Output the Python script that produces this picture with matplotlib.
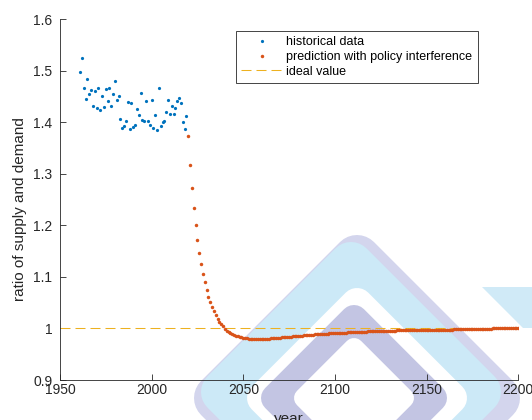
import numpy as np
import matplotlib
matplotlib.use("Agg")
import matplotlib.pyplot as plt
from matplotlib.patches import Polygon
from matplotlib.transforms import Affine2D

plt.rcParams['font.family'] = ['Liberation Sans', 'DejaVu Sans']

# historical supply/demand ratio, one value per year
hist_years = np.arange(1961, 2020)
hist_ratio = [1.497, 1.525, 1.466, 1.446, 1.485, 1.455, 1.462, 1.431, 1.460, 1.428,
              1.466, 1.424, 1.452, 1.430, 1.465, 1.442, 1.466, 1.432, 1.455, 1.481,
              1.444, 1.451, 1.406, 1.390, 1.392, 1.403, 1.440, 1.387, 1.437, 1.391,
              1.395, 1.426, 1.414, 1.457, 1.405, 1.402, 1.442, 1.403, 1.395, 1.444,
              1.390, 1.414, 1.385, 1.466, 1.393, 1.400, 1.403, 1.421, 1.443, 1.416,
              1.432, 1.416, 1.427, 1.442, 1.448, 1.438, 1.400, 1.387, 1.413]

# model prediction with policy interference
pred_years = np.arange(2020, 2201)
pred_ratio = [1.373, 1.318, 1.272, 1.233, 1.200, 1.171, 1.146, 1.125, 1.106, 1.090,
              1.075, 1.062, 1.051, 1.042, 1.033, 1.026, 1.019, 1.013, 1.008, 1.004,
              0.999, 0.996, 0.993, 0.991, 0.989, 0.987, 0.986, 0.985, 0.984, 0.983,
              0.982, 0.981, 0.981, 0.980, 0.980, 0.979, 0.979, 0.979, 0.979, 0.979,
              0.979, 0.980, 0.980, 0.980, 0.980, 0.981, 0.981, 0.981, 0.982, 0.982,
              0.982, 0.983, 0.983, 0.983, 0.984, 0.984, 0.984, 0.985, 0.985, 0.985,
              0.986, 0.986, 0.986, 0.987, 0.987, 0.987, 0.988, 0.988, 0.988, 0.989,
              0.989, 0.989, 0.989, 0.990, 0.990, 0.990, 0.990, 0.991, 0.991, 0.991,
              0.991, 0.991, 0.992, 0.992, 0.992, 0.992, 0.992, 0.993, 0.993, 0.993,
              0.993, 0.993, 0.994, 0.994, 0.994, 0.994, 0.994, 0.994, 0.995, 0.995,
              0.995, 0.995, 0.995, 0.995, 0.995, 0.996, 0.996, 0.996, 0.996, 0.996,
              0.996, 0.996, 0.996, 0.996, 0.997, 0.997, 0.997, 0.997, 0.997, 0.997,
              0.997, 0.997, 0.997, 0.997, 0.997, 0.997, 0.998, 0.998, 0.998, 0.998,
              0.998, 0.998, 0.998, 0.998, 0.998, 0.998, 0.998, 0.998, 0.998, 0.998,
              0.998, 0.998, 0.998, 0.998, 0.998, 0.999, 0.999, 0.999, 0.999, 0.999,
              0.999, 0.999, 0.999, 0.999, 0.999, 0.999, 0.999, 0.999, 0.999, 0.999,
              0.999, 0.999, 0.999, 0.999, 0.999, 0.999, 1.000, 1.000, 1.000, 1.000,
              1.000, 1.000, 1.000, 1.000, 1.000, 1.000, 1.000, 1.000, 1.000, 1.000,
              1.000]

ideal = 1.0
x_ticks = [1950, 2000, 2050, 2100, 2150, 2200]
y_ticks = [0.9, 1.0, 1.1, 1.2, 1.3, 1.4, 1.5, 1.6]
y_ticklabels = ['0.9', '1', '1.1', '1.2', '1.3', '1.4', '1.5', '1.6']

W, H = 532, 420
fig = plt.figure(figsize=(W / 100, H / 100), dpi=100)
ax = fig.add_axes([60 / W, 1 - 380 / H, 458.3 / W, 360.7 / H])

# background logo, laid out in pixel coordinates (origin top-left)
px = Affine2D().scale(1 / W, -1 / H).translate(0, 1) + fig.transFigure


def diamond(cx, cy, half, r, color):
    h = half - r
    pts = [(cx, cy - h), (cx + h, cy), (cx, cy + h), (cx - h, cy)]
    p = Polygon(pts, closed=True, facecolor=color, edgecolor=color,
                linewidth=2 * r * 0.72, joinstyle='round',
                transform=px, zorder=0.5, clip_on=False)
    ax.add_patch(p)


cx, cy = 357, 398
diamond(cx, cy, 163, 24, '#d3d5ed')
diamond(cx - 6, cy - 6, 150, 22, '#cce9f7')
diamond(cx, cy, 110, 16, 'white')
diamond(cx - 3, cy, 93, 14, '#c3c5e3')
diamond(cx - 3, cy, 60, 10, 'white')
ax.add_patch(Polygon([(482, 287), (540, 287), (540, 328), (523, 328)], closed=True,
                     facecolor='#d0eaf7', edgecolor='none', transform=px,
                     zorder=0.5, clip_on=False))
ax.patch.set_alpha(0)

ax.plot(hist_years, hist_ratio, linestyle='none', marker='o', markersize=2.3,
        markeredgewidth=0, color='#0072BD', label='historical data', zorder=3)
ax.plot(pred_years, pred_ratio, linestyle='none', marker='o', markersize=2.5,
        markeredgewidth=0, color='#D95319',
        label='prediction with policy interference', zorder=3)
ax.plot([1950, 2200], [ideal, ideal], color='#EDB120', linewidth=0.75,
        dashes=(9.6, 4.8), label='ideal value', zorder=2)

ax.set_xlim(1950, 2200)
ax.set_ylim(0.9, 1.6)
ax.set_xticks(x_ticks)
ax.set_yticks(y_ticks)
ax.set_yticklabels(y_ticklabels)
ax.tick_params(direction='in', length=4, width=0.6, colors='#262626',
               labelsize=10)
ax.tick_params(axis='y', pad=5.5)
ax.tick_params(axis='x', pad=2.5)
for side in ['top', 'right']:
    ax.spines[side].set_visible(False)
for side in ['left', 'bottom']:
    ax.spines[side].set_color('#262626')
    ax.spines[side].set_linewidth(0.6)

ax.set_xlabel('year', fontsize=11, color='#262626', labelpad=10.5)
ax.set_ylabel('ratio of supply and demand', fontsize=11, color='#262626')
ax.yaxis.set_label_coords(-0.072, 0.474)

leg = ax.legend(loc='upper left', bbox_to_anchor=(236 / W, 1 - 31 / H),
                bbox_transform=fig.transFigure, fontsize=9, frameon=True,
                fancybox=False, framealpha=1, edgecolor='#262626',
                handlelength=3.35, handletextpad=0.25, labelspacing=0.22,
                borderpad=0.42, borderaxespad=0, numpoints=1, markerscale=1.0)
leg.get_frame().set_linewidth(0.6)

fig.savefig('out.png', dpi=100)
